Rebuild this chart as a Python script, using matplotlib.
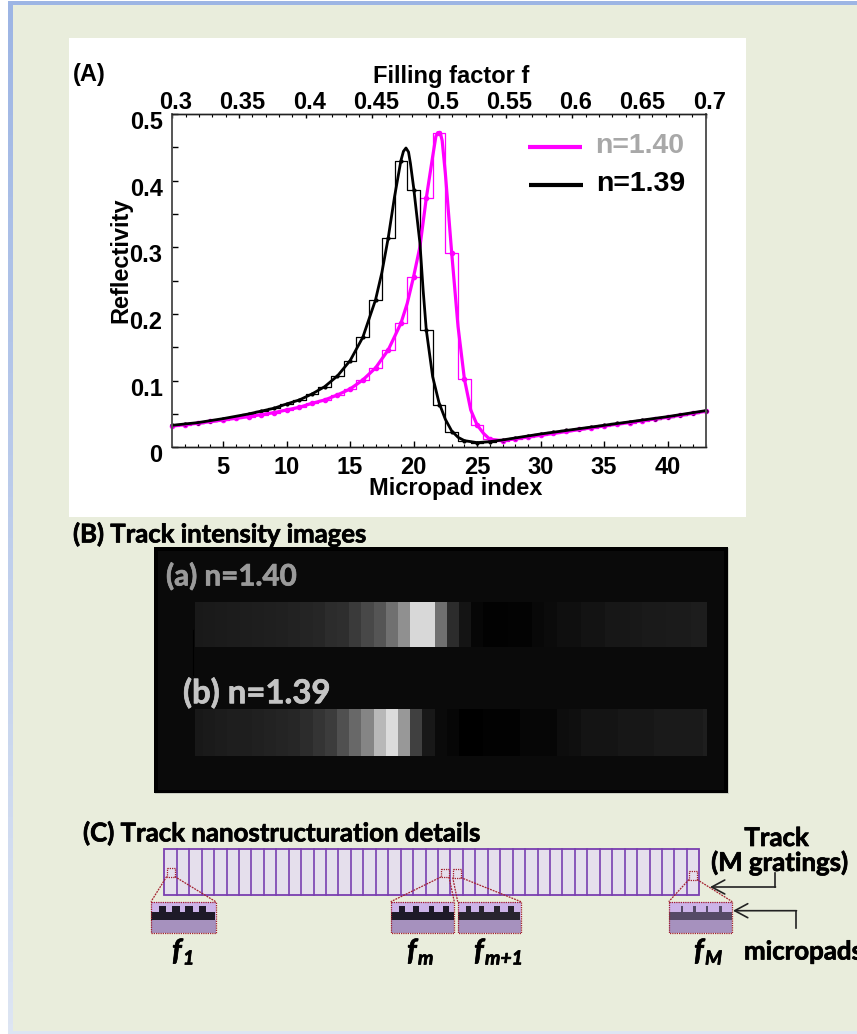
import numpy as np
import matplotlib
matplotlib.use('Agg')
import matplotlib.pyplot as plt
from matplotlib.patches import Rectangle
from matplotlib.transforms import ScaledTranslation
import matplotlib.patheffects as pe

# reflectivity per micropad
pads = list(range(1, 44))
step_139 = [0.033, 0.035, 0.037, 0.040, 0.043, 0.046, 0.050, 0.054, 0.0585, 0.065,
            0.071, 0.080, 0.091, 0.107, 0.130, 0.165, 0.221, 0.314, 0.430, 0.386,
            0.176, 0.0635, 0.0234, 0.010, 0.007, 0.0085, 0.011, 0.014, 0.017, 0.020,
            0.023, 0.026, 0.028, 0.031, 0.033, 0.036, 0.038, 0.041, 0.043, 0.046,
            0.049, 0.052, 0.055]
step_140 = [0.032, 0.034, 0.036, 0.039, 0.041, 0.044, 0.046, 0.049, 0.052, 0.056,
            0.060, 0.066, 0.071, 0.0785, 0.0875, 0.101, 0.119, 0.146, 0.186, 0.256,
            0.374, 0.472, 0.2915, 0.1025, 0.0335, 0.012, 0.010, 0.012, 0.015, 0.018,
            0.021, 0.024, 0.027, 0.029, 0.032, 0.035, 0.037, 0.040, 0.042, 0.045,
            0.048, 0.051, 0.054]

# the thick fitted curves, read at closer spacing around the peaks
fit_139_x = [1, 3, 5, 7, 9, 10, 11, 12, 13, 14, 15, 16, 17, 17.5, 18, 18.5, 19, 19.2, 19.4,
             19.6, 19.75, 20, 20.5, 20.75, 21, 21.5, 22, 22.5, 23, 23.5, 24, 25, 26, 27, 30,
             35, 40, 43]
fit_139_y = [0.033, 0.037, 0.043, 0.050, 0.0585, 0.065, 0.071, 0.080, 0.091, 0.107,
             0.130, 0.165, 0.221, 0.262, 0.314, 0.376, 0.430, 0.444, 0.449, 0.443, 0.426,
             0.390, 0.306, 0.236, 0.176, 0.106, 0.067, 0.042, 0.0245, 0.015, 0.010, 0.007,
             0.0085, 0.011, 0.020, 0.033, 0.046, 0.055]
fit_140_x = [1, 3, 5, 7, 9, 10, 11, 12, 13, 14, 15, 16, 17, 18, 19, 19.5, 20, 20.5, 21,
             21.5, 21.75, 21.9, 22.1, 22.25, 22.5, 23, 23.5, 24, 24.5, 25, 25.5, 26, 27, 30,
             35, 40, 43]
fit_140_y = [0.032, 0.036, 0.041, 0.046, 0.052, 0.056, 0.060, 0.066, 0.071, 0.0785,
             0.0875, 0.101, 0.119, 0.146, 0.186, 0.216, 0.256, 0.301, 0.374, 0.436,
             0.466, 0.472, 0.472, 0.460, 0.411, 0.2915, 0.181, 0.1025, 0.056, 0.0335, 0.021,
             0.012, 0.010, 0.018, 0.032, 0.045, 0.054]

# grey level of each of the 43 gratings in the track images
strip_a = [25, 26, 27, 28, 29, 30, 31, 32, 34, 36, 38, 44, 46, 58, 72, 85, 112, 144,
           216, 216, 112, 44, 20, 6, 2, 2, 3, 3, 8, 11, 15, 15, 19, 19, 23, 23, 24,
           26, 26, 27, 27, 29, 29]
strip_b = [24, 26, 28, 30, 30, 32, 34, 36, 38, 44, 52, 60, 80, 104, 133, 184, 220, 152,
           64, 24, 10, 6, 0, 0, 2, 2, 2, 6, 6, 6, 13, 15, 20, 20, 20, 23, 23, 23, 26,
           26, 26, 26, 30]

W, H = 857, 1034
SANS = 'Liberation Sans'
SLIDE = 'Lato'
BG = '#e9eddc'
CHART_PT = 17

fig = plt.figure(figsize=(W / 100, H / 100), dpi=100, facecolor='white')


def px_axes(x0, y0, x1, y1):
    return fig.add_axes([x0 / W, 1 - y1 / H, (x1 - x0) / W, (y1 - y0) / H])


# page in pixel coordinates, everything but the chart itself goes here
pg = fig.add_axes([0, 0, 1, 1])
pg.set_xlim(0, W)
pg.set_ylim(H, 0)
pg.axis('off')
pg.add_patch(Rectangle((8, 1), W, H, fc=BG, ec='none', zorder=0))
pg.add_patch(Rectangle((8, 1), W, 3.5, fc='#9db5e4', ec='none', zorder=1))
pg.add_patch(Rectangle((8, 1030.5), W, 4, fc='#dde5f3', ec='none', zorder=1))
fade = np.linspace(0, 1, 100).reshape(-1, 1)
pg.imshow(fade, cmap=matplotlib.colors.LinearSegmentedColormap.from_list(
    'edge', ['#9db5e4', '#dde5f3']), extent=(8, 12.5, 1034, 1), aspect='auto', zorder=1)
pg.set_xlim(0, W)
pg.set_ylim(H, 0)
pg.add_patch(Rectangle((69, 37.5), 677.5, 479, fc='white', ec='none', zorder=2))

# (A) chart
ax = px_axes(172.3, 114, 705.7, 447.3)
ax.patch.set_alpha(0)
ax.set_xlim(1, 43)
ax.set_ylim(0, 0.5)
ax.plot(pads, step_140, color='#ff00ff', lw=0.9, drawstyle='steps-mid', clip_on=False)
ax.plot(pads, step_139, color='black', lw=0.9, drawstyle='steps-mid', clip_on=False)
ax.plot(pads, step_140, color='#ff00ff', ls='none', marker='o', ms=3, clip_on=False)
ax.plot(pads, step_139, color='black', ls='none', marker='o', ms=2, clip_on=False)
ax.plot(fit_140_x, fit_140_y, color='#ff00ff', lw=2.3, clip_on=False)
ax.plot(fit_139_x, fit_139_y, color='black', lw=2.0, clip_on=False)
ax.set_xticks([5, 10, 15, 20, 25, 30, 35, 40])
ax.set_xticks(range(1, 44), minor=True)
ax.set_yticks([0, 0.1, 0.2, 0.3, 0.4, 0.5])
ax.set_yticklabels(['0', '0.1', '0.2', '0.3', '0.4', '0.5'])
ax.set_yticks([0.05, 0.15, 0.25, 0.35, 0.45], minor=True)
ax.tick_params(axis='x', which='major', direction='in', length=4, width=1, pad=6)
ax.tick_params(axis='x', which='minor', direction='in', length=2, width=0.8)
ax.tick_params(axis='y', which='major', direction='in', length=4, width=1, pad=7)
ax.tick_params(axis='y', which='minor', direction='in', length=4, width=1)

top = ax.twiny()
top.patch.set_alpha(0)
top.set_xlim(0.3, 0.7)
top.set_xticks([0.3, 0.35, 0.4, 0.45, 0.5, 0.55, 0.6, 0.65, 0.7])
top.set_xticklabels(['0.3', '0.35', '0.4', '0.45', '0.5', '0.55', '0.6', '0.65', '0.7'])
top.set_xticks(np.arange(30, 71) / 100, minor=True)
top.tick_params(axis='x', which='major', direction='in', length=3, width=1, pad=0)
top.tick_params(axis='x', which='minor', direction='in', length=2, width=0.8)

for a in (ax, top):
    for lbl in a.get_xticklabels() + a.get_yticklabels():
        lbl.set_fontproperties({'family': SANS, 'weight': 'bold', 'size': CHART_PT})
    for side in ('left', 'right'):
        a.spines[side].set_color('#555555')
        a.spines[side].set_linewidth(1.2)
    for side in ('top', 'bottom'):
        a.spines[side].set_color('#222222')
        a.spines[side].set_linewidth(1.0)
for lbl in ax.get_yticklabels():
    lbl.set_transform(lbl.get_transform() + ScaledTranslation(0, -6 / 100, fig.dpi_scale_trans))
for lbl in top.get_xticklabels():
    lbl.set_transform(lbl.get_transform() + ScaledTranslation(3.5 / 100, 0, fig.dpi_scale_trans))

bold = dict(family=SANS, weight='bold', ha='center', va='center', color='black', zorder=5)
pg.text(451, 76, 'Filling factor f', fontsize=CHART_PT, **bold)
pg.text(456, 488, 'Micropad index', fontsize=CHART_PT, **bold)
pg.text(121, 260, 'Reflectivity', fontsize=CHART_PT, rotation=90, **bold)
pg.text(89, 75, '(A)', fontsize=CHART_PT, **bold)

# legend drawn by hand, like in the slide
fig.add_artist(plt.Line2D([528 / W, 582 / W], [1 - 146.5 / H] * 2, color='#ff00ff', lw=3,
                          solid_capstyle='butt'))
fig.add_artist(plt.Line2D([529 / W, 583 / W], [1 - 184.5 / H] * 2, color='black', lw=3,
                          solid_capstyle='butt'))
fig.text(595 / W, 1 - 145.5 / H, 'n=1.40', color='#a8a8a8', family=SANS, weight='bold',
         fontsize=20.5, ha='left', va='center')
fig.text(596 / W, 1 - 184 / H, 'n=1.39', color='black', family=SANS, weight='bold',
         fontsize=20.5, ha='left', va='center')

# (B) track images
slide = dict(family=SLIDE, weight='bold', va='center', zorder=6)
heavy = [pe.withStroke(linewidth=0.5, foreground='black')]
pg.text(73, 534, '(B) Track intensity images', fontsize=18.5, color='black',
        path_effects=heavy, **slide)
pg.add_patch(Rectangle((155.5, 548), 574, 246, fc='#c9ccc0', ec='none', zorder=2))
pg.add_patch(Rectangle((154, 547), 574.5, 246, fc='black', ec='none', zorder=3))
pg.add_patch(Rectangle((158, 551), 566, 239, fc='#0a0a0a', ec='none', zorder=4))
pg.plot([193, 193], [630, 675], color='black', lw=0.8, zorder=5)
pg.text(166, 576, '(a) n=1.40', fontsize=21.3, color='#9a9a9a',
        path_effects=[pe.withStroke(linewidth=0.5, foreground='#9a9a9a')], **slide)
pg.text(183, 693, '(b) n=1.39', fontsize=23.7, color='#c4c4c4',
        path_effects=[pe.withStroke(linewidth=0.5, foreground='#c4c4c4')], **slide)

for vals, y0, y1 in ((strip_a, 601.7, 646.7), (strip_b, 709, 756)):
    s = px_axes(195, y0, 706, y1)
    # first and last gratings are cut by the image edge
    s.imshow([vals], cmap='gray', vmin=0, vmax=255, aspect='auto', interpolation='nearest',
             extent=(190.8, 190.8 + 12.17 * len(vals), 0, 1))
    s.set_xlim(195, 706)
    s.axis('off')

# (C) track and gratings
pg.text(83, 833, '(C) Track nanostructuration details', fontsize=18.6, color='black',
        path_effects=heavy, **slide)
track_n = 43
pg.add_patch(Rectangle((164.3, 849.3), 535, 45.7, fc='#e5dfec', ec='#7a3fb0', lw=1.3, zorder=3))
for i in range(1, track_n):
    xl = 164.3 + 535 / track_n * i
    pg.plot([xl, xl], [849.3, 895], color='#7a3fb0', lw=1.2, zorder=3)

RED = '#a3202e'
insets = [
    (151, 215.7, [162.5, 175.8, 189, 202.4], 7.7, '#1e1a28', (166.7, 868), 'f', '1', 172),
    (390.7, 454.3, [402, 416, 431.5, 446], 5.3, '#1e1a28', (441, 868.5), 'f', 'm', 407),
    (457.7, 521, [468.5, 481.5, 497, 511], 5.5, '#28242f', (452.7, 869), 'f', 'm+1', 474),
    (668.7, 732.3, [681.7, 694.5, 706.7, 720.5], 2.2, '#554a66', (689, 871), 'f', 'M', 694),
]
for x0, x1, teeth, tw, dark, sq, name, sub, tx in insets:
    pg.add_patch(Rectangle((x0, 901.7), x1 - x0, 31.6, fc='#ccb3e8', ec='none', zorder=4))
    pg.add_patch(Rectangle((x0 + 0.5, 911.7), x1 - x0 - 1, 8.5, fc=dark, ec='none', zorder=5))
    pg.add_patch(Rectangle((x0, 920), x1 - x0, 13.3, fc='#a691be', ec='none', zorder=5))
    for t in teeth:
        pg.add_patch(Rectangle((t - tw / 2, 905.7), tw, 6.5, fc=dark, ec='none', zorder=5))
    pg.add_patch(Rectangle((x0, 901.7), x1 - x0, 31.6, fc='none', ec=RED, lw=0.9, ls=(0, (1, 0.8)), zorder=6))
    pg.add_patch(Rectangle(sq, 8, 8.5, fc='none', ec=RED, lw=0.9, ls=(0, (1, 0.8)), zorder=6))
    pg.plot([sq[0], x0], [sq[1] + 8.5, 901.7], color=RED, lw=0.9, ls=(0, (1.5, 0.8)), zorder=6)
    pg.plot([sq[0] + 8, x1], [sq[1] + 8.5, 901.7], color=RED, lw=0.9, ls=(0, (1.5, 0.8)), zorder=6)
    pg.text(tx, 952, name, family=SLIDE, weight='bold', style='italic', fontsize=21,
            ha='left', va='center', zorder=6, path_effects=heavy)
    pg.text(tx + 11, 959, sub, family=SLIDE, weight='bold', style='italic', fontsize=14,
            ha='left', va='center', zorder=6, path_effects=heavy)

# labels and arrows on the right
pg.text(776.7, 838, 'Track', fontsize=18.6, ha='center', color='black', path_effects=heavy, **slide)
pg.text(780, 862.5, '(M gratings)', fontsize=18.6, ha='center', color='black', path_effects=heavy, **slide)
pg.text(744, 951.5, 'micropads', fontsize=18.6, ha='left', color='black', path_effects=heavy, **slide)
head = '->,head_length=0.52,head_width=0.28'
pg.plot([775, 775], [873, 887], color='#222222', lw=1.2, zorder=6)
pg.annotate('', xy=(710, 887), xytext=(775.5, 887), zorder=6,
            arrowprops=dict(arrowstyle=head, color='#222222', lw=1.2, mutation_scale=18,
                            shrinkA=0, shrinkB=0))
pg.plot([796, 796], [928, 910.7], color='#222222', lw=1.2, zorder=6)
pg.annotate('', xy=(733, 910.7), xytext=(796.5, 910.7), zorder=6,
            arrowprops=dict(arrowstyle=head, color='#222222', lw=1.2, mutation_scale=18,
                            shrinkA=0, shrinkB=0))

fig.savefig('out.png', dpi=100)
